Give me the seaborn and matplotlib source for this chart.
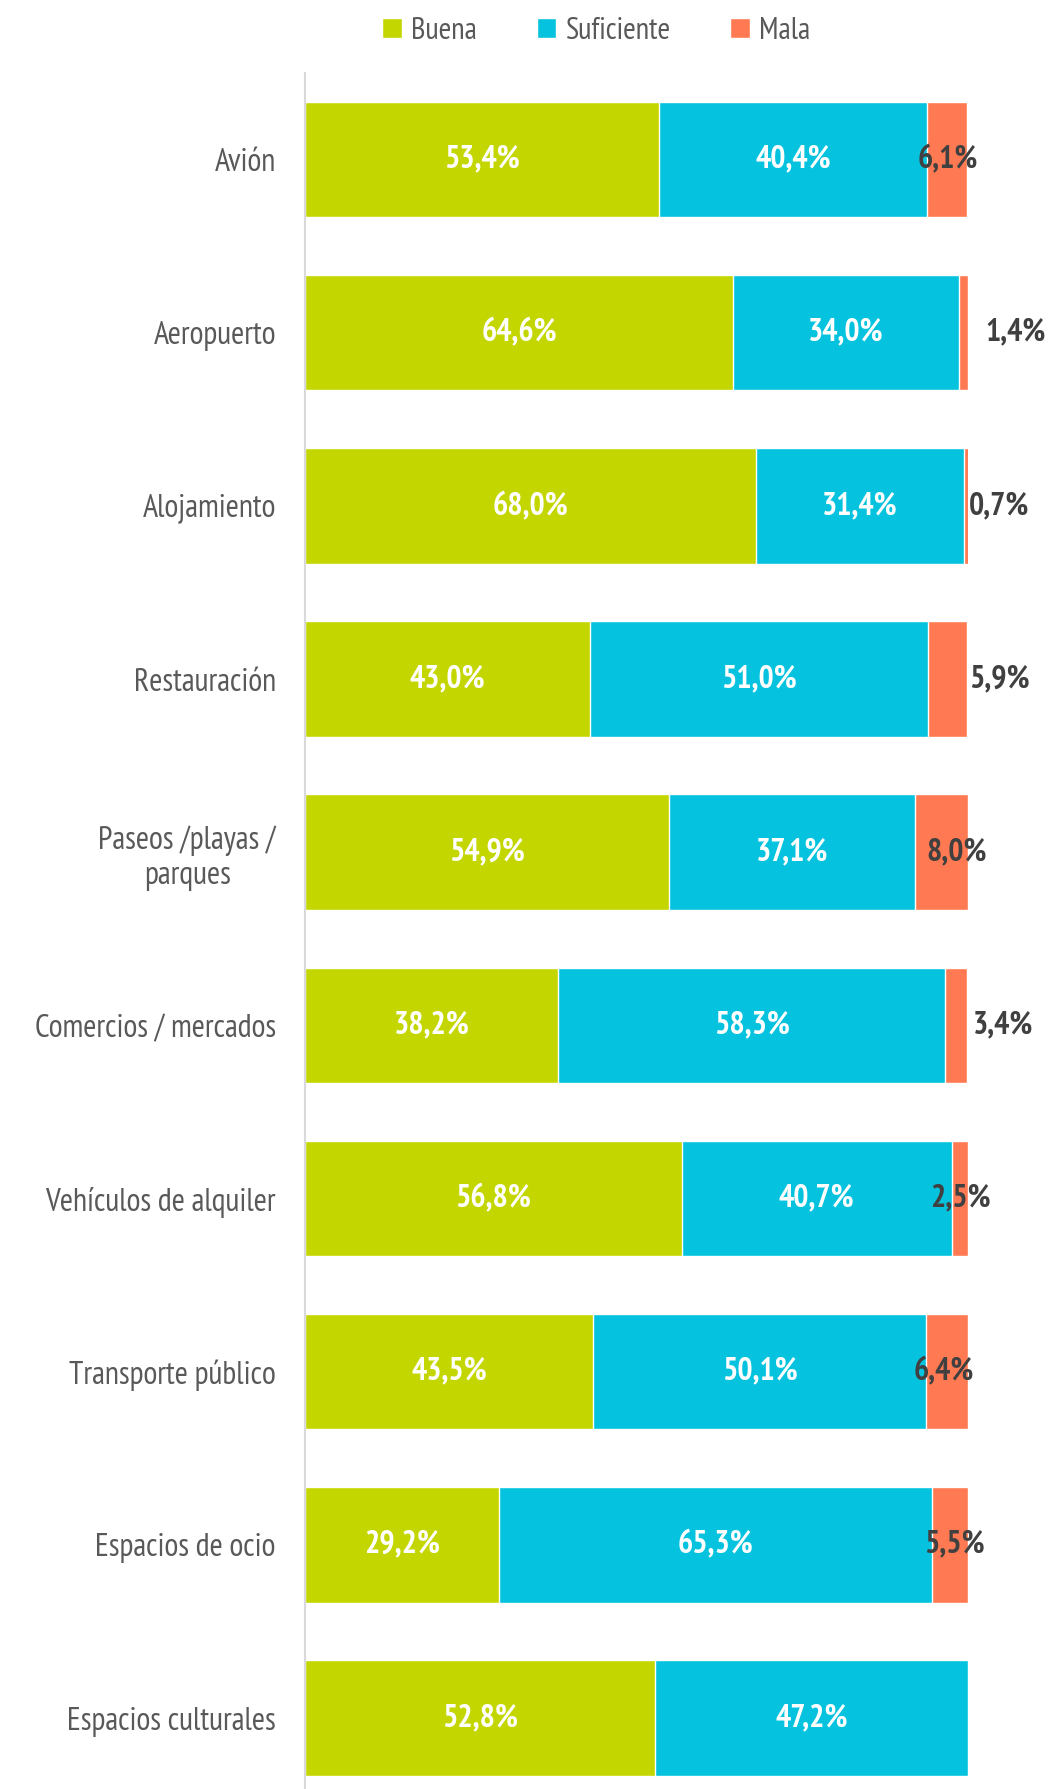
import numpy as np
import pandas as pd
import matplotlib.pyplot as plt
import seaborn as sns
from matplotlib.patches import Patch
from matplotlib import font_manager as fm

# Data
categorias = ['Avión', 'Aeropuerto', 'Alojamiento', 'Restauración',
              'Paseos /playas /\nparques', 'Comercios / mercados',
              'Vehículos de alquiler', 'Transporte público',
              'Espacios de ocio', 'Espacios culturales']
buena = [53.4, 64.6, 68.0, 43.0, 54.9, 38.2, 56.8, 43.5, 29.2, 52.8]
suficiente = [40.4, 34.0, 31.4, 51.0, 37.1, 58.3, 40.7, 50.1, 65.3, 47.2]
mala = [6.1, 1.4, 0.7, 5.9, 8.0, 3.4, 2.5, 6.4, 5.5, 0.0]

# Styling
COL_BUENA = '#C4D600'
COL_SUF = '#05C3DE'
COL_MALA = '#FF7A52'
TXT_GREY = '#595959'
LBL_DARK = '#404040'
# x position (in %) of the "Mala" labels, as placed in the original
mala_label_x = [96.9, 107.1, 104.6, 104.8, 98.3, 105.2, 98.8, 96.4, 97.9, None]

sns.set_style('white')
available = {f.name for f in fm.fontManager.ttflist}
font = 'DejaVu Sans'
for cand in ['PT Sans Narrow', 'Roboto Condensed', 'Open Sans Condensed',
             'Liberation Sans Narrow', 'Archivo Narrow', 'Encode Sans Condensed']:
    if cand in available:
        font = cand
        break
plt.rcParams['font.family'] = [font, 'DejaVu Sans']

df = pd.DataFrame({'cat': categorias, 'buena': buena,
                   'suficiente': suficiente, 'mala': mala})
df['c2'] = df['buena'] + df['suficiente']
df['c3'] = df['c2'] + df['mala']

fig = plt.figure(figsize=(10.5, 17.89), dpi=100)
ax = fig.add_axes([0.2905, 0.0, 0.922 - 0.2905, 1 - 73 / 1789])

w = 0.667
sns.barplot(data=df, x='c3', y='cat', orient='h', color=COL_MALA, width=w,
            saturation=1, ax=ax)
sns.barplot(data=df, x='c2', y='cat', orient='h', color=COL_SUF, width=w,
            saturation=1, ax=ax)
sns.barplot(data=df, x='buena', y='cat', orient='h', color=COL_BUENA, width=w,
            saturation=1, ax=ax)

ax.set_xlim(0, 100)
ax.set_ylim(9.41, -0.5)
ax.set_xlabel('')
ax.set_ylabel('')
ax.set_xticks([])
for s in ['top', 'right', 'bottom']:
    ax.spines[s].set_visible(False)
ax.spines['left'].set_color('#D9D9D9')
ax.spines['left'].set_linewidth(1.5)
ax.tick_params(axis='y', length=0, pad=21, labelsize=23, labelcolor=TXT_GREY)
for lab in ax.get_yticklabels():
    lab.set_multialignment('center')

for i in range(len(categorias)):
    ax.text(buena[i] / 2, i, f'{buena[i]:.1f}%'.replace('.', ','),
            ha='center', va='center', color='white', fontsize=23,
            fontweight='bold')
    ax.text(buena[i] + suficiente[i] / 2, i,
            f'{suficiente[i]:.1f}%'.replace('.', ','),
            ha='center', va='center', color='white', fontsize=23,
            fontweight='bold')
    if mala[i] > 0:
        ax.text(mala_label_x[i], i, f'{mala[i]:.1f}%'.replace('.', ','),
                ha='center', va='center', color=LBL_DARK, fontsize=23,
                fontweight='bold', clip_on=False)

handles = [Patch(facecolor=COL_BUENA, label='Buena'),
           Patch(facecolor=COL_SUF, label='Suficiente'),
           Patch(facecolor=COL_MALA, label='Mala')]
leg = fig.legend(handles=handles, loc='center', bbox_to_anchor=(0.568, 1 - 31 / 1789),
                 ncol=3, frameon=False, fontsize=22, handlelength=0.65,
                 handleheight=0.65, handletextpad=0.3, columnspacing=1.95)
for t in leg.get_texts():
    t.set_color(TXT_GREY)

fig.savefig('out.png', dpi=100)
